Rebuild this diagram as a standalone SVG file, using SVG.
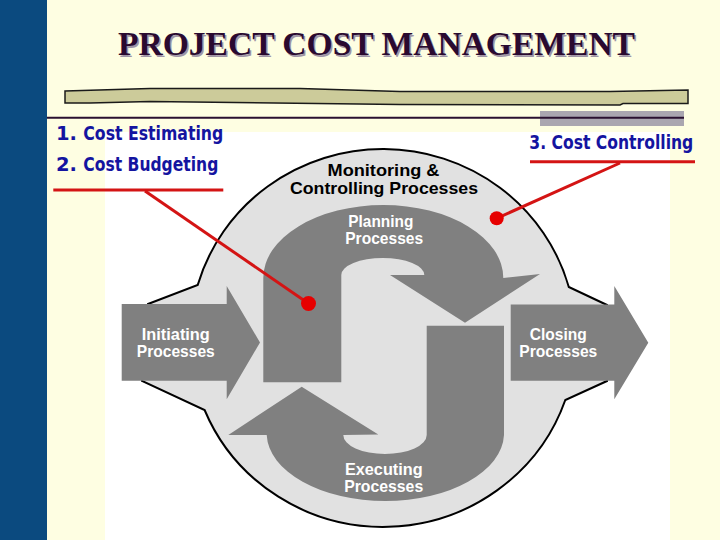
<svg xmlns="http://www.w3.org/2000/svg" width="720" height="540" viewBox="0 0 720 540">
<style>
.arrow{fill:#808080;stroke:none}
.lbl{font-family:"Liberation Sans",Arial,sans-serif;font-weight:bold;fill:#ffffff;text-anchor:middle;font-size:16.5px}
.dark{font-family:"Liberation Sans",Arial,sans-serif;font-weight:bold;fill:#000000;text-anchor:middle;font-size:16.5px}
.blue{font-family:"DejaVu Sans",Verdana,sans-serif;font-weight:bold;fill:#1414a0;font-size:19.5px}
.red{stroke:#d41414;stroke-width:3;fill:none}
.dot{fill:#e60000}
.title{font-family:"Liberation Serif","Times New Roman",serif;font-weight:bold;font-size:33px;text-anchor:middle}
</style>
<rect x="0" y="0" width="720" height="540" fill="#fefee2"/>
<rect x="0" y="0" width="47" height="540" fill="#0b4a7f"/>
<g id="title">
<text class="title" x="378" y="56.5" fill="#a095a6" textLength="517" lengthAdjust="spacingAndGlyphs">PROJECT COST MANAGEMENT</text>
<text class="title" x="376.5" y="55" fill="#2a0a30" textLength="517" lengthAdjust="spacingAndGlyphs">PROJECT COST MANAGEMENT</text>
</g>
<g id="decor">
<polygon points="65,91 150,88.5 300,88.5 400,91.5 610,91.5 688,90 688,103.5 623,103.5 620,105 400,104.5 150,101.5 90,103 65,103" fill="#cccb9a" stroke="#1a1a1a" stroke-width="1.5"/>
<rect x="540" y="111" width="144" height="15" fill="#aaa6b0"/>
<line x1="47" y1="117.7" x2="684" y2="117.7" stroke="#2a1030" stroke-width="2"/>
</g>
<rect x="105" y="132" width="565" height="408" fill="#ffffff"/>
<g id="node-monitoring">
<path d="M148,304 L197.7,285 A193,189 0 0 1 568.8,287 L607,305 L607,381 L565.3,400 A193,189 0 0 1 204.6,410 L142,381 Z" fill="#e1e1e1" stroke="#000" stroke-width="2"/>
<text class="dark" x="383.5" y="175.5" textLength="112" lengthAdjust="spacingAndGlyphs">Monitoring &amp;</text>
<text class="dark" x="384" y="194" textLength="188" lengthAdjust="spacingAndGlyphs">Controlling Processes</text>
</g>
<g id="node-initiating">
<polygon class="arrow" points="121.7,304 226.7,304 226.7,286 260,342.5 226.7,399.3 226.7,380.7 121.7,380.7"/>
<text class="lbl" x="175.8" y="340" textLength="68" lengthAdjust="spacingAndGlyphs">Initiating</text>
<text class="lbl" x="175.8" y="357.3" textLength="78" lengthAdjust="spacingAndGlyphs">Processes</text>
</g>
<g id="node-closing">
<polygon class="arrow" points="510.7,304.5 614.3,304.5 614.3,286 648.3,342.7 614.3,399.3 614.3,380.7 510.7,380.7"/>
<text class="lbl" x="558.3" y="340" textLength="57" lengthAdjust="spacingAndGlyphs">Closing</text>
<text class="lbl" x="558.3" y="357.3" textLength="78" lengthAdjust="spacingAndGlyphs">Processes</text>
</g>
<g id="node-planning">
<path class="arrow" d="M263.3,382.3 L263.3,278 A120,73 0 0 1 503.3,278 L540,274 L465,322.7 L390,275 L424.3,275 A41.5,17 0 0 0 341.3,275 L341.3,382.3 Z"/>
<text class="lbl" x="380.8" y="227.3" textLength="65" lengthAdjust="spacingAndGlyphs">Planning</text>
<text class="lbl" x="384.2" y="244.3" textLength="78" lengthAdjust="spacingAndGlyphs">Processes</text>
</g>
<g id="node-executing">
<path class="arrow" d="M426.7,325.7 L504,325.7 L504,435 A118.7,68 0 0 1 266.7,435 L228.3,435 L301.7,386.7 L378.3,434.5 L343.3,435 A41.7,19 0 0 0 426.7,435 Z"/>
<text class="lbl" x="383.8" y="475" textLength="77.7" lengthAdjust="spacingAndGlyphs">Executing</text>
<text class="lbl" x="383.7" y="491.7" textLength="79" lengthAdjust="spacingAndGlyphs">Processes</text>
</g>
<g id="callout-left">
<text class="blue" x="56" y="140">1.</text>
<text class="blue" x="83.3" y="140" textLength="140" lengthAdjust="spacingAndGlyphs">Cost Estimating</text>
<text class="blue" x="56" y="170.7">2.</text>
<text class="blue" x="83.3" y="170.7" textLength="135" lengthAdjust="spacingAndGlyphs">Cost Budgeting</text>
</g>
<g id="callout-right">
<text class="blue" x="529.3" y="149.3" font-size="17.5" textLength="164" lengthAdjust="spacingAndGlyphs">3. Cost Controlling</text>
</g>
<g id="connectors">
<line class="red" x1="53.3" y1="190" x2="223.3" y2="190"/>
<line class="red" x1="145" y1="191" x2="308.5" y2="303.5"/>
<circle class="dot" cx="308.5" cy="303.5" r="7.5"/>
<line class="red" x1="530" y1="161.7" x2="695" y2="161.7"/>
<line class="red" x1="620" y1="163" x2="496.7" y2="218.3"/>
<circle class="dot" cx="496.7" cy="218.3" r="7"/>
</g>
</svg>
